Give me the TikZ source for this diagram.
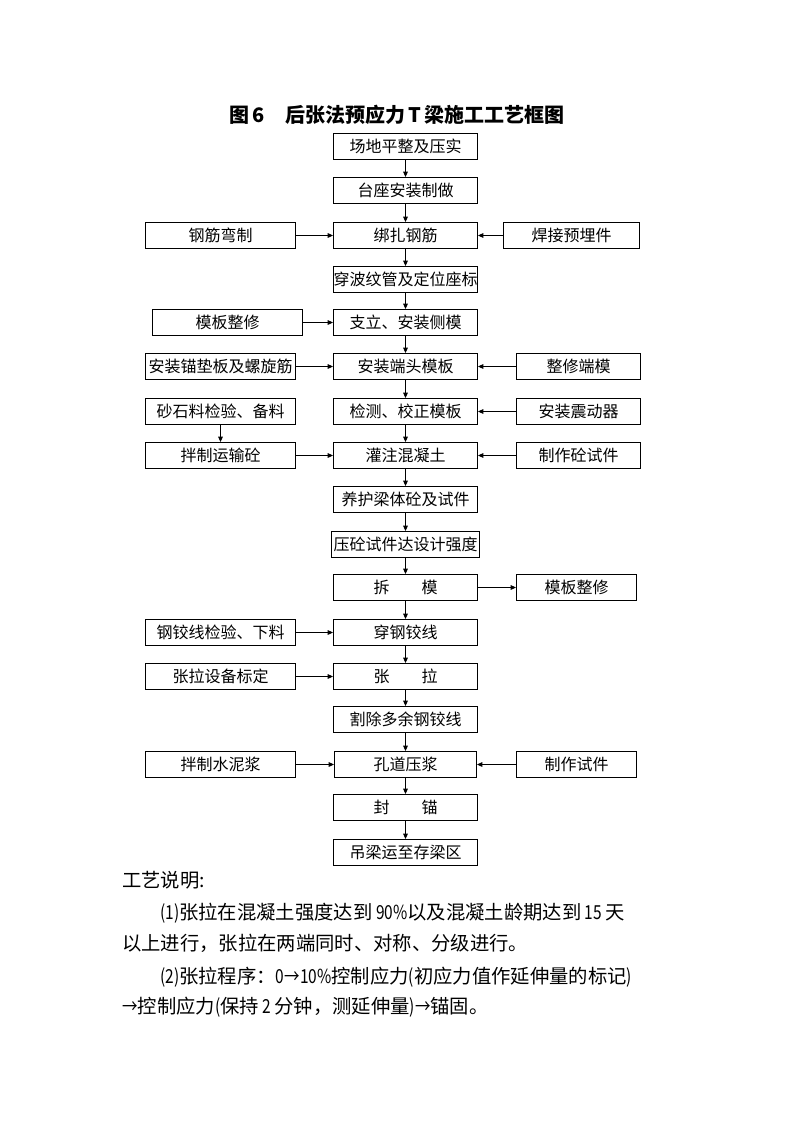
\documentclass[tikz,border=0pt]{standalone}
\usepackage{fontspec}
\setmainfont{Noto Sans CJK SC}
\newfontfamily\narrowfont{Noto Sans CJK SC}[FakeStretch=0.8]
\newcommand{\nar}[1]{{\narrowfont #1}}
\usetikzlibrary{positioning,arrows.meta}

\begin{document}
\begin{tikzpicture}[x=0.75pt,y=-0.75pt,
    stepbox/.style={draw,line width=0.75pt,minimum height=19.5pt,inner sep=0pt,
      font=\fontsize{12}{14}\selectfont},
    mainbox/.style={stepbox,minimum width=108pt},
    leftbox/.style={stepbox,minimum width=112.5pt},
    rightbox/.style={stepbox,minimum width=93pt},
    flow/.style={-{Triangle[length=4pt,width=3.5pt]},line width=0.75pt},
    note/.style={anchor=west,inner sep=0pt,font=\fontsize{14.5}{17}\selectfont}]

  \useasboundingbox (0,0) rectangle (794,1123);

  % Title
  \node (title) at (397,115) {\bfseries\fontsize{15}{18}\selectfont 图\,6\quad 后张法预应力\,T\,梁施工工艺框图};

  % Define the nodes of the main line
  \node[mainbox] (s1) at (405.5,146.5) {场地平整及压实};
  \node[mainbox] (s2) at (405.5,190.5) {台座安装制做};
  \node[mainbox] (s3) at (405.5,235.5) {绑扎钢筋};
  \node[mainbox] (s4) at (405.5,279.5) {穿波纹管及定位座标};
  \node[mainbox] (s5) at (405.5,322.5) {支立、安装侧模};
  \node[mainbox] (s6) at (405.5,366.5) {安装端头模板};
  \node[mainbox] (s7) at (405.5,411.5) {检测、校正模板};
  \node[mainbox] (s8) at (405.5,455.5) {灌注混凝土};
  \node[mainbox] (s9) at (405.5,499.5) {养护梁体砼及试件};
  \node[mainbox,minimum width=111pt] (s10) at (405.5,544.5) {压砼试件达设计强度};
  \node[mainbox] (s11) at (405.5,587.5) {拆　　模};
  \node[mainbox] (s12) at (405.5,632.5) {穿钢铰线};
  \node[mainbox] (s13) at (405.5,676.5) {张　　拉};
  \node[mainbox] (s14) at (405.5,719.5) {割除多余钢铰线};
  \node[mainbox,minimum width=106.5pt] (s15) at (405.5,764.5) {孔道压浆};
  \node[mainbox] (s16) at (405.5,807.5) {封　　锚};
  \node[mainbox] (s17) at (405.5,852.5) {吊梁运至存梁区};

  % Define the nodes on the left
  \node[leftbox] (l3) at (220.5,235.5) {钢筋弯制};
  \node[leftbox] (l5) at (227.5,322.5) {模板整修};
  \node[leftbox] (l6) at (220.5,366.5) {安装锚垫板及螺旋筋};
  \node[leftbox] (l7) at (220.5,411.5) {砂石料检验、备料};
  \node[leftbox] (l8) at (220.5,455.5) {拌制运输砼};
  \node[leftbox] (l12) at (220.5,632.5) {钢铰线检验、下料};
  \node[leftbox] (l13) at (220.5,676.5) {张拉设备标定};
  \node[leftbox] (l15) at (220.5,764.5) {拌制水泥浆};

  % Define the nodes on the right
  \node[rightbox,minimum width=102pt] (r3) at (571.5,235.5) {焊接预埋件};
  \node[rightbox] (r6) at (578.5,366.5) {整修端模};
  \node[rightbox] (r7) at (578.5,411.5) {安装震动器};
  \node[rightbox] (r8) at (578.5,455.5) {制作砼试件};
  \node[rightbox,minimum width=90pt] (r11) at (576.5,587.5) {模板整修};
  \node[rightbox,minimum width=90pt] (r15) at (576.5,764.5) {制作试件};

  % Draw the arrows of the main line
  \foreach \a/\b in {s1/s2,s2/s3,s3/s4,s4/s5,s5/s6,s6/s7,s7/s8,s8/s9,
    s9/s10,s10/s11,s11/s12,s12/s13,s13/s14,s14/s15,s15/s16,s16/s17}
    \draw[flow] (\a) -- (\b);

  % Draw the arrows from the side boxes
  \foreach \a in {3,5,6,8,12,13,15}
    \draw[flow] (l\a) -- (s\a);
  \foreach \a in {3,6,7,8,15}
    \draw[flow] (r\a) -- (s\a);
  \draw[flow] (l7) -- (l8);
  \draw[flow] (s11) -- (r11);

  % Notes below the chart
  \node[note] (n0) at (122,880) {工艺说明:};
  \node[note] (n1) at (160,913) {\nar{(1)}张拉在混凝土强度达到\nar{ 90\%}以及混凝土龄期达到\nar{ 15 }天};
  \node[note] (n2) at (122,943) {以上进行，张拉在两端同时、对称、分级进行。};
  \node[note] (n3) at (160,977) {\nar{(2)}张拉程序：\nar{0→10\%}控制应力\nar{(}初应力值作延伸量的标记\nar{)}};
  \node[note] (n4) at (122,1007) {\nar{→}控制应力\nar{(}保持\nar{ 2 }分钟，测延伸量\nar{)→}锚固。};
\end{tikzpicture}
\end{document}
